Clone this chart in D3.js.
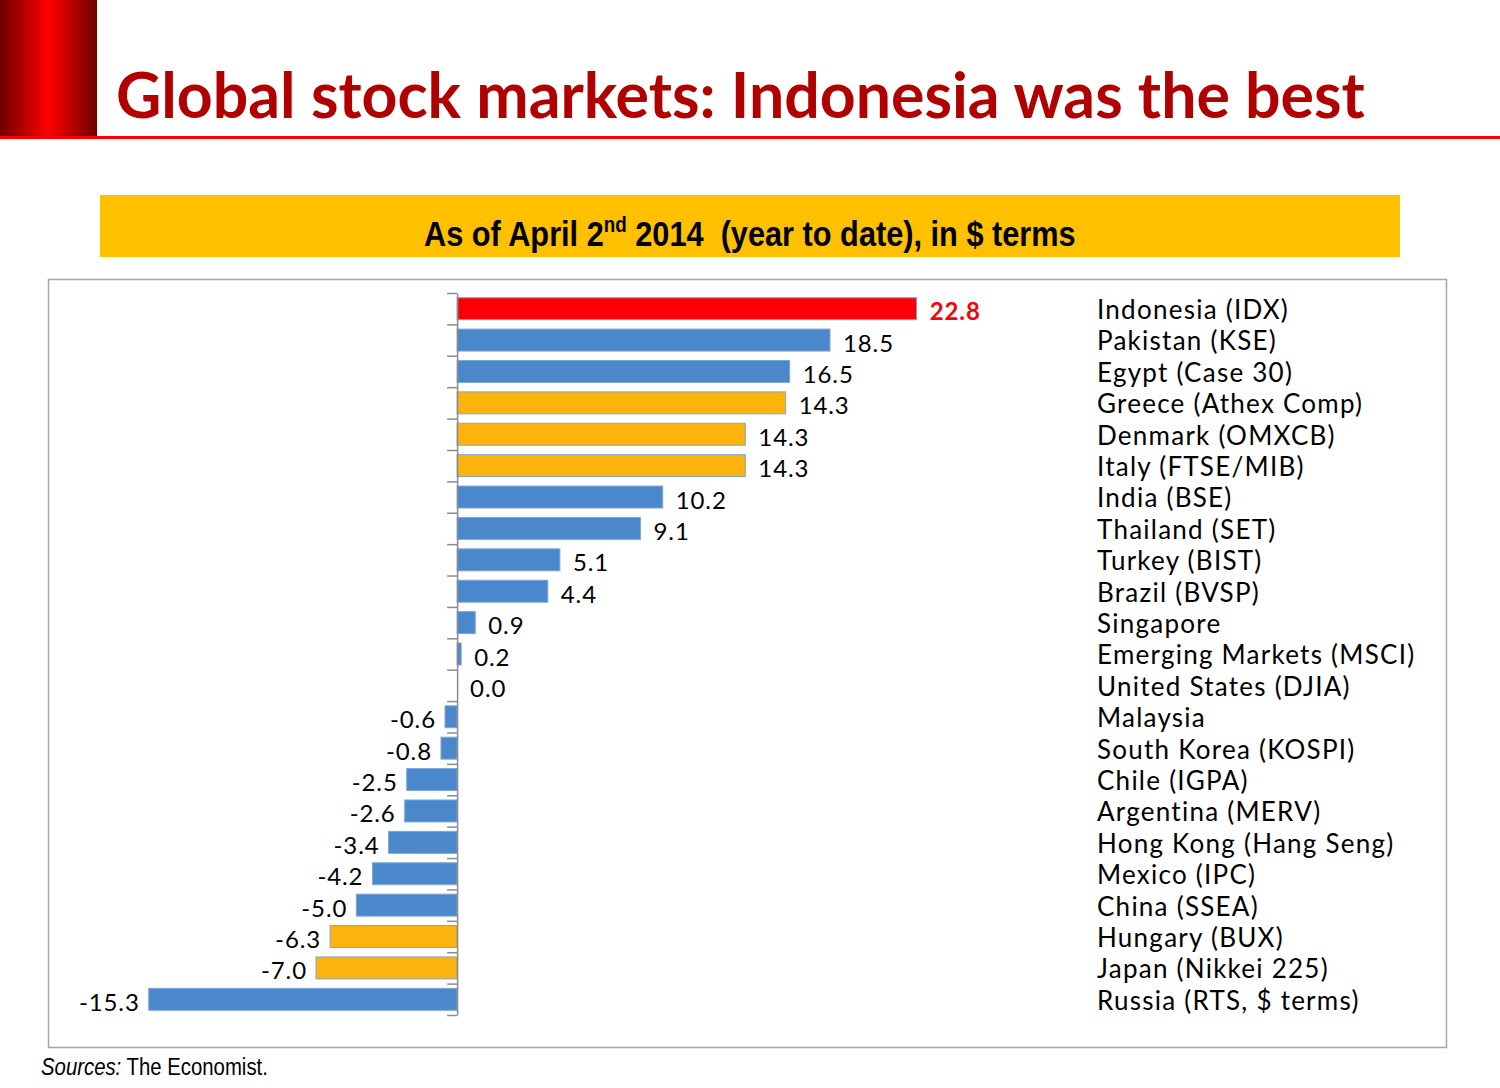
<!DOCTYPE html>
<html>
<head>
<meta charset="utf-8">
<script src="https://cdn.jsdelivr.net/npm/d3@7"></script>
<style>
  body { margin: 0; background: #fff; }
</style>
</head>
<body>
<div id="wrapper"></div>
<script>
const markets = [
  "Indonesia (IDX)", "Pakistan (KSE)", "Egypt (Case 30)", "Greece (Athex Comp)",
  "Denmark (OMXCB)", "Italy (FTSE/MIB)", "India (BSE)", "Thailand (SET)",
  "Turkey (BIST)", "Brazil (BVSP)", "Singapore", "Emerging Markets (MSCI)",
  "United States (DJIA)", "Malaysia", "South Korea (KOSPI)", "Chile (IGPA)",
  "Argentina (MERV)", "Hong Kong (Hang Seng)", "Mexico (IPC)", "China (SSEA)",
  "Hungary (BUX)", "Japan (Nikkei 225)", "Russia (RTS, $ terms)"
];
// bar lengths as drawn (Greece's bar is longer than its printed label)
const changes = [
  22.8, 18.5, 16.5, 16.3, 14.3, 14.3, 10.2, 9.1, 5.1, 4.5, 0.9, 0.2,
  0.0, -0.6, -0.8, -2.5, -2.6, -3.4, -4.2, -5.0, -6.3, -7.0, -15.3
];
const changeLabels = [
  "22.8", "18.5", "16.5", "14.3", "14.3", "14.3", "10.2", "9.1", "5.1", "4.4",
  "0.9", "0.2", "0.0", "-0.6", "-0.8", "-2.5", "-2.6", "-3.4", "-4.2", "-5.0",
  "-6.3", "-7.0", "-15.3"
];
// highlight: "best", "europe" or "other"
const groups = [
  "best", "other", "other", "europe", "europe", "europe", "other", "other",
  "other", "other", "other", "other", "other", "other", "other", "other",
  "other", "other", "other", "other", "europe", "europe", "other"
];

const dataset = markets.map((m, i) => ({
  market: m, value: changes[i], label: changeLabels[i], group: groups[i]
}));

const colors = { best: "#fb0007", europe: "#fcb40c", other: "#4a88cb" };

const width = 1500;
const height = 1088;

const svg = d3.select("#wrapper")
  .append("svg")
  .attr("width", width)
  .attr("height", height);

// squeeze a text horizontally to a target width (no narrow font installed)
function squeeze(textSel, x, y, targetWidth) {
  const natural = textSel.node().getComputedTextLength();
  textSel.attr("transform", `translate(${x},${y}) scale(${targetWidth / natural},1)`);
}

// header: gradient block, rule and title
const defs = svg.append("defs");
const grad = defs.append("linearGradient")
  .attr("id", "redBlock")
  .attr("x1", "0%").attr("x2", "100%").attr("y1", "0%").attr("y2", "0%");
grad.append("stop").attr("offset", "0%").attr("stop-color", "#6e0000");
grad.append("stop").attr("offset", "50%").attr("stop-color", "#ff0000");
grad.append("stop").attr("offset", "100%").attr("stop-color", "#6e0000");

svg.append("rect")
  .attr("x", 0).attr("y", 0)
  .attr("width", 97).attr("height", 137)
  .attr("fill", "url(#redBlock)");

svg.append("line")
  .attr("x1", 0).attr("x2", width)
  .attr("y1", 137.5).attr("y2", 137.5)
  .attr("stroke", "#ff0000")
  .attr("stroke-width", 3);

svg.append("text")
  .attr("x", 116)
  .attr("y", 118)
  .attr("fill", "#b00000")
  .style("font-family", "Lato, 'Open Sans', sans-serif")
  .style("font-weight", "bold")
  .style("font-size", "62.6px")
  .text("Global stock markets: Indonesia was the best");

// yellow subtitle band
svg.append("rect")
  .attr("x", 100).attr("y", 195)
  .attr("width", 1300).attr("height", 62)
  .attr("fill", "#ffc000");

const subtitle = svg.append("text")
  .attr("fill", "#000")
  .style("font-family", "'Liberation Sans', Arial, sans-serif")
  .style("font-weight", "bold")
  .style("font-size", "36px");
subtitle.append("tspan").text("As of April 2");
subtitle.append("tspan").attr("dy", -14).style("font-size", "22px").text("nd");
subtitle.append("tspan").attr("dy", 14).text(" 2014 \u00a0(year to date), in $ terms");
squeeze(subtitle, 424, 246, 652);

// chart frame
svg.append("rect")
  .attr("x", 48.5).attr("y", 279.5)
  .attr("width", 1398).attr("height", 768)
  .attr("fill", "none")
  .attr("stroke", "#a6a6a6")
  .attr("stroke-width", 1.5);

const xScale = d3.scaleLinear()
  .domain([-20, 25])
  .range([54, 961]);

const yScale = d3.scaleBand()
  .domain(markets)
  .range([293, 1015])
  .paddingInner(0.3)
  .paddingOuter(0.15);

// bars
svg.append("g")
  .selectAll("rect")
  .data(dataset)
  .join("rect")
  .attr("x", d => xScale(Math.min(0, d.value)))
  .attr("y", d => yScale(d.market))
  .attr("width", d => Math.abs(xScale(d.value) - xScale(0)))
  .attr("height", yScale.bandwidth())
  .attr("fill", d => colors[d.group])
  .attr("stroke", d => d.value === 0 ? "none" : "#7fa6d6")
  .attr("stroke-width", 1);

// category axis with ticks between categories
const yEdges = d3.scaleLinear()
  .domain([0, markets.length])
  .range([293, 1015]);

const yAxis = svg.append("g")
  .attr("transform", `translate(${xScale(0)},0)`)
  .call(d3.axisLeft(yEdges)
    .tickValues(d3.range(markets.length + 1))
    .tickSize(10)
    .tickSizeOuter(0)
    .tickFormat(""));
yAxis.selectAll("path, line")
  .attr("stroke", "#8c8c8c")
  .attr("stroke-width", 1.5);

// value labels
svg.append("g")
  .selectAll("text")
  .data(dataset)
  .join("text")
  .attr("x", d => d.value < 0 ? xScale(d.value) - 9 : xScale(d.value) + 13)
  .attr("y", d => yScale(d.market) + yScale.bandwidth() / 2)
  .attr("dy", "0.48em")
  .attr("text-anchor", d => d.value < 0 ? "end" : "start")
  .attr("fill", d => d.group === "best" ? "#fb0007" : "#000")
  .style("font-family", "Lato, 'Open Sans', sans-serif")
  .style("font-weight", d => d.group === "best" ? "bold" : "normal")
  .style("font-size", "24px")
  .style("letter-spacing", "0.9px")
  .text(d => d.label);

// market names
svg.append("g")
  .selectAll("text")
  .data(dataset)
  .join("text")
  .attr("x", 1097)
  .attr("y", d => yScale(d.market) + yScale.bandwidth() / 2)
  .attr("dy", "0.4em")
  .attr("fill", "#000")
  .style("font-family", "Lato, 'Open Sans', sans-serif")
  .style("font-size", "26px")
  .style("letter-spacing", "1.25px")
  .text(d => d.market);

// source note
const source = svg.append("text")
  .attr("fill", "#000")
  .style("font-family", "'Liberation Sans', Arial, sans-serif")
  .style("font-size", "23px");
source.append("tspan").style("font-style", "italic").text("Sources:");
source.append("tspan").text(" The Economist.");
squeeze(source, 41, 1075, 227);
</script>
</body>
</html>
